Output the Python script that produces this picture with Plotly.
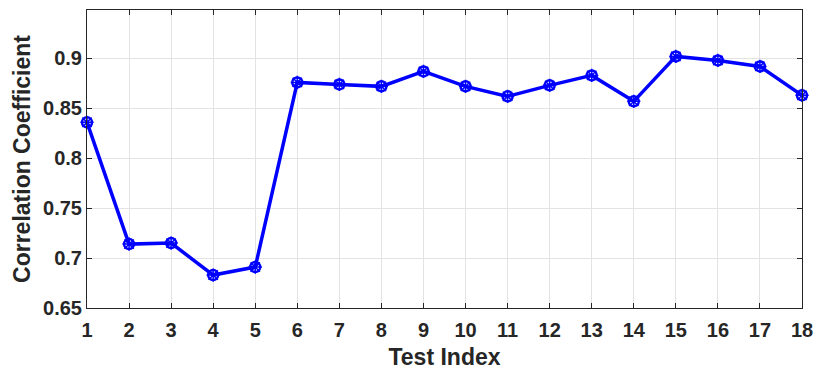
import plotly.graph_objects as go

test_index = list(range(1, 19))
corr_coef = [0.836, 0.714, 0.715, 0.683, 0.691, 0.876, 0.874, 0.872, 0.887, 0.872,
             0.862, 0.873, 0.883, 0.857, 0.902, 0.898, 0.892, 0.863]
y_ticks = [0.65, 0.7, 0.75, 0.8, 0.85, 0.9]
y_tick_text = ["0.65", "0.7", "0.75", "0.8", "0.85", "0.9"]

fig = go.Figure()
fig.add_trace(go.Scatter(
    x=test_index, y=corr_coef, mode="lines+markers",
    line=dict(color="#0000ff", width=3.5),
    marker=dict(symbol="circle-open", size=10, color="#0000ff", line=dict(width=2.5, color="#0000ff")),
    showlegend=False, cliponaxis=False,
))
fig.add_trace(go.Scatter(
    x=test_index, y=corr_coef, mode="markers",
    marker=dict(symbol="asterisk-open", size=11, color="#0000ff", line=dict(width=1.5, color="#0000ff")),
    showlegend=False, cliponaxis=False, hoverinfo="skip",
))

axis_font = dict(family="Liberation Sans, Arial, sans-serif", size=20, color="#262626")
fig.update_layout(
    width=815, height=370,
    margin=dict(l=87, r=13, t=10, b=62),
    paper_bgcolor="white", plot_bgcolor="white",
    font=dict(family="Liberation Sans, Arial, sans-serif", color="#262626"),
    xaxis=dict(
        range=[1, 18], tickmode="array", tickvals=test_index,
        ticks="inside", ticklen=5, tickcolor="#262626",
        showline=True, linecolor="#262626", linewidth=1, mirror="ticks",
        showgrid=True, gridcolor="#e3e3e3", gridwidth=1, zeroline=False,
        tickfont=dict(axis_font, weight="bold"), ticklabelstandoff=4,
        automargin=False,
        title=dict(text="<b>Test Index</b>", font=dict(size=23, color="#262626"), standoff=9),
    ),
    yaxis=dict(
        range=[0.65, 0.9485], tickmode="array", tickvals=y_ticks, ticktext=y_tick_text,
        ticks="inside", ticklen=5, tickcolor="#262626",
        showline=True, linecolor="#262626", linewidth=1, mirror="ticks",
        showgrid=True, gridcolor="#e3e3e3", gridwidth=1, zeroline=False,
        tickfont=dict(axis_font, weight="bold"),
        automargin=False,
        title=dict(text="<b>Correlation Coefficient</b>", font=dict(size=23, color="#262626"), standoff=6),
    ),
)
fig.write_html("out.html")
